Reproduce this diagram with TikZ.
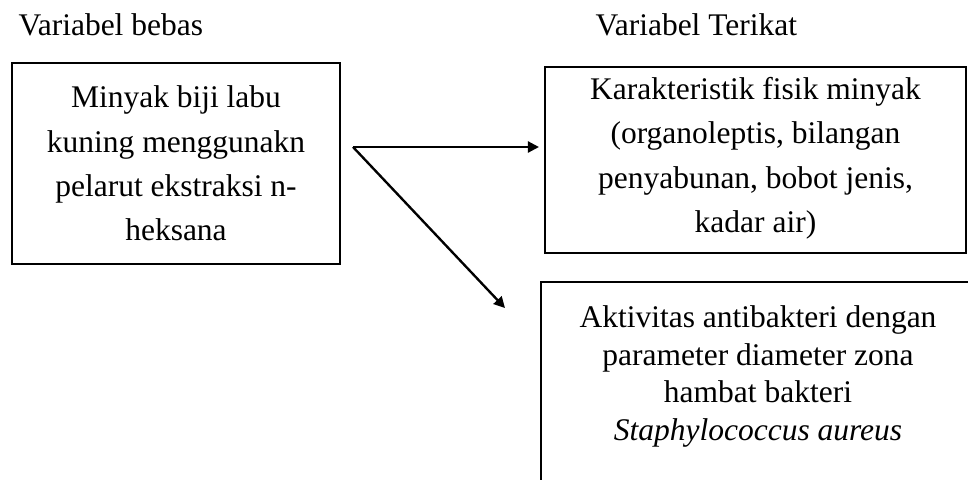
\documentclass[tikz,border=0pt]{standalone}
\usepackage{fontspec}
\setmainfont{Liberation Serif}
\usetikzlibrary{calc}
\usetikzlibrary{arrows.meta}

\tikzset{
  judul/.style={inner sep=0pt, anchor=base west},
  kotak/.style={draw, line width=0.8pt, align=center, inner sep=0pt},
  panah/.style={line width=0.9pt, -{Triangle[length=4.2pt,width=4.2pt]}}
}

\begin{document}
\begin{tikzpicture}[x=0.381pt, y=-0.381pt, font=\fontsize{12}{16.9}\selectfont]
    \clip (0,0) rectangle (968,479);
    \node (bebas) [judul] at (18,35) {Variabel bebas};
    \node (terikat) [judul] at (595,35) {Variabel Terikat};
    \node (minyak) [kotak, minimum width=125pt, minimum height=76.6pt] at (176,163.5)
        {Minyak biji labu\\kuning menggunakn\\pelarut ekstraksi n-\\heksana};
    \node (fisik) [kotak, minimum width=160.4pt, minimum height=70.9pt] at (755.5,160)
        {\rule{0pt}{0pt}Karakteristik fisik minyak\\(organoleptis, bilangan\\penyabunan, bobot jenis,\\kadar air)\rule[-4pt]{0pt}{0pt}};
    \node (aktivitas) [kotak, draw=none, minimum width=164.6pt, minimum height=71.2pt,
        font=\fontsize{12}{14.4}\selectfont] at (758,376.5)
        {Aktivitas antibakteri dengan\\parameter diameter zona\\hambat bakteri\\\textit{Staphylococcus aureus}};
    \draw[line width=0.8pt] ($(aktivitas.south west)+(0pt,-20pt)$) -- (aktivitas.north west)
        -- (aktivitas.north east) -- ($(aktivitas.south east)+(0pt,-20pt)$);
    \coordinate (cabang) at (353,147);
    \coordinate (ujung) at (505,308);
    \draw[panah, shorten >=1.9pt] (cabang) -- (fisik.west |- cabang);
    \draw[panah] (cabang) -- (ujung);
\end{tikzpicture}
\end{document}
